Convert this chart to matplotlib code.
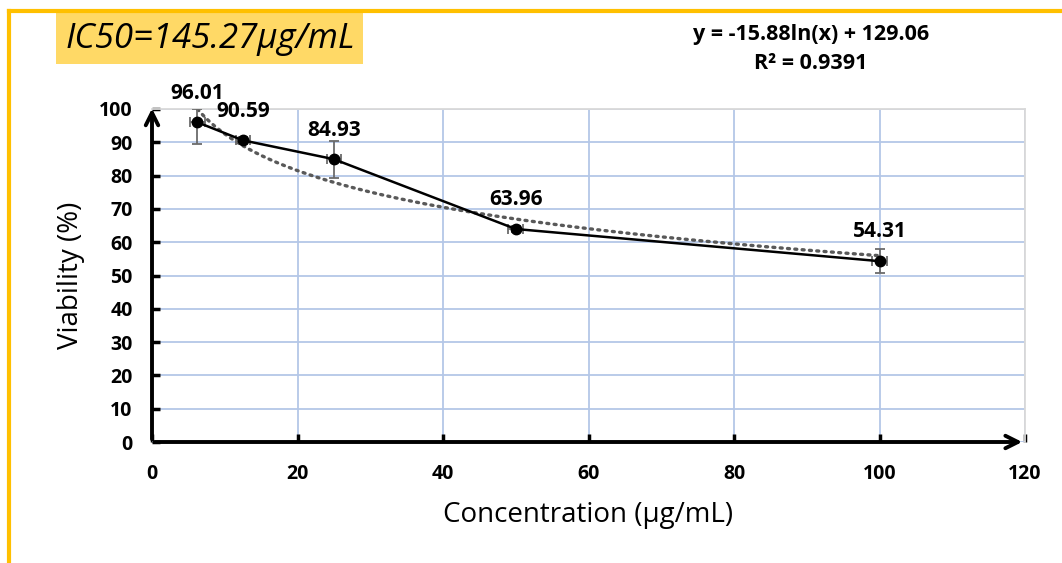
import numpy as np
import matplotlib
matplotlib.use('Agg')
import matplotlib.pyplot as plt
from matplotlib.lines import Line2D
from matplotlib.patches import Rectangle

plt.rcParams['font.family'] = ['Open Sans', 'DejaVu Sans']

# data
conc = [6.25, 12.5, 25, 50, 100]
viability = [96.01, 90.59, 84.93, 63.96, 54.31]
err_low = [6.6, 1.0, 5.6, 1.0, 3.5]
err_high = [3.9, 1.0, 5.5, 1.0, 3.5]
xerr = [1.0, 1.0, 1.0, 1.0, 1.0]
xticks = [0, 20, 40, 60, 80, 100, 120]
yticks = [0, 10, 20, 30, 40, 50, 60, 70, 80, 90, 100]
eq_text = 'y = -15.88ln(x) + 129.06\nR² = 0.9391'
ic50_text = 'IC50=145.27μg/mL'

W, H = 1062, 563
fig = plt.figure(figsize=(W/100, H/100), dpi=100)
ax = fig.add_axes([152/W, 1-442/H, 873/W, 333/H])

# log trendline fitted on the data
coef = np.polyfit(np.log(conc), viability, 1)
xt = np.linspace(conc[0], conc[-1], 200)
ax.plot(xt, coef[0]*np.log(xt)+coef[1], color='#595959', lw=2.4,
        linestyle=(0, (0.6, 1.6)), dash_capstyle='round', zorder=3)

ax.errorbar(conc, viability, yerr=[err_low, err_high], xerr=xerr, fmt='none',
            ecolor='#6b6b6b', elinewidth=1.3, capsize=3.5, capthick=1.3, zorder=4)
ax.plot(conc, viability, color='black', lw=1.8, marker='o', markersize=7.5, zorder=5)

for xv, yv in zip(conc, viability):
    ax.annotate('%.2f' % yv, (xv, yv), xytext=(0, 21), textcoords='offset points',
                ha='center', va='center', fontsize=15, fontweight='bold')

ax.set_xlim(0, 120)
ax.set_ylim(0, 100)
ax.set_xticks(xticks)
ax.set_yticks(yticks)
ax.grid(True, color='#b4c7e7', lw=1.3)
ax.set_axisbelow(True)
ax.tick_params(direction='in', length=5.5, width=2.5, labelsize=14)
ax.tick_params(axis='y', pad=14)
ax.tick_params(axis='x', pad=16)
for lab in ax.get_xticklabels() + ax.get_yticklabels():
    lab.set_fontweight('bold')

for s in ['left', 'bottom']:
    ax.spines[s].set_visible(False)
for s in ['top', 'right']:
    ax.spines[s].set_color('#d9d9d9')
    ax.spines[s].set_linewidth(1.3)

# axis arrows
ax.annotate('', xy=(1.0, 0), xytext=(0, 0), xycoords='axes fraction',
            arrowprops=dict(arrowstyle='->,head_width=0.45,head_length=0.9', lw=2.8, color='black'),
            annotation_clip=False)
ax.annotate('', xy=(0, 1.01), xytext=(0, 0), xycoords='axes fraction',
            arrowprops=dict(arrowstyle='->,head_width=0.45,head_length=0.9', lw=2.8, color='black'),
            annotation_clip=False)

ax.set_xlabel('Concentration (μg/mL)', fontsize=20, labelpad=12)
ax.set_ylabel('Viability (%)', fontsize=20, labelpad=10)

fig.text(811/W, 1-49/H, eq_text, ha='center', va='center', fontsize=15.5,
         fontweight='bold', linespacing=1.45)

# IC50 label on a gold box
fig.add_artist(Rectangle((56/W, 1-64/H), 307/W, 51/H, transform=fig.transFigure,
                         fc='#ffd966', ec='none'))
fig.text(210/W, 1-39/H, ic50_text, ha='center', va='center', fontsize=25, style='italic')

# gold frame
fig.add_artist(Line2D([9/W, 9/W], [0, 1-11/H], color='#ffc000', lw=3))
fig.add_artist(Line2D([9/W, 1], [1-11/H, 1-11/H], color='#ffc000', lw=3))

fig.savefig('out.png', dpi=100)
